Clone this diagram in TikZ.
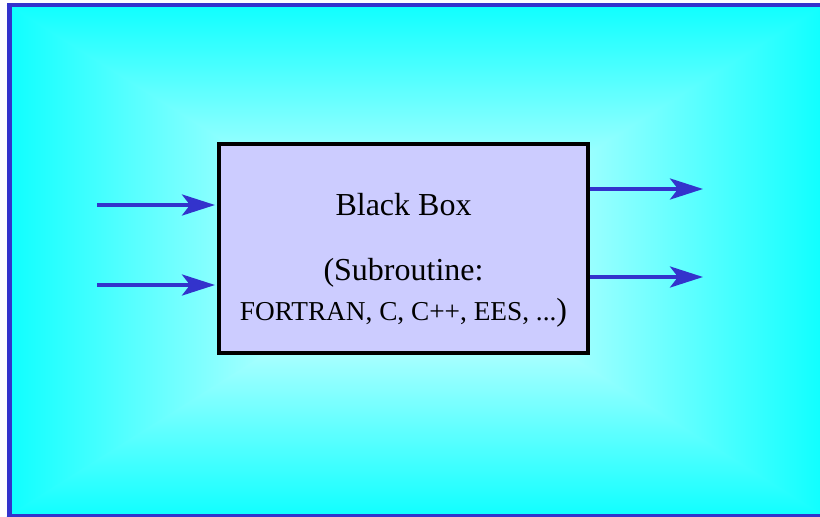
\documentclass[tikz,border=0pt]{standalone}
\usepackage{fontspec}
\setmainfont{Liberation Serif}
\usetikzlibrary{positioning,arrows.meta}
\definecolor{frameblue}{RGB}{51,51,204}
\definecolor{boxfill}{RGB}{204,204,255}
\definecolor{edgecyan}{RGB}{15,255,255}
\tikzset{box node/.style={rectangle,draw=black,fill=boxfill,line width=4pt,minimum width=369pt,minimum height=209pt,inner sep=0pt},
         flow/.style={draw=frameblue,line width=4pt,-{Stealth[length=33pt,width=21pt,inset=8pt]}},
         big text/.style={font=\fontsize{32}{38}\selectfont,inner sep=0pt,anchor=base},
         small text/.style={font=\fontsize{27.3}{32}\selectfont,inner sep=0pt,anchor=base},
            }

\begin{document}
\begin{tikzpicture}[x=1pt,y=-1pt]
    \useasboundingbox (0,0) rectangle (820,517);

    % background, lighter towards the middle
    \coordinate (tl) at (9.5,5);
    \coordinate (tr) at (823,5);
    \coordinate (br) at (823,516.5);
    \coordinate (bl) at (9.5,516.5);
    \coordinate (mid) at (416.25,260.75);
    \shade[left color=edgecyan,right color=white] (tl) -- (bl) -- (mid) -- cycle;
    \shade[right color=edgecyan,left color=white] (tr) -- (br) -- (mid) -- cycle;
    \shade[top color=edgecyan,bottom color=white]
        ([xshift=-3pt]tl) -- ([xshift=3pt]tr) -- ([xshift=3pt]mid) -- ([xshift=-3pt]mid) -- cycle;
    \shade[bottom color=edgecyan,top color=white]
        ([xshift=-3pt]bl) -- ([xshift=3pt]br) -- ([xshift=3pt]mid) -- ([xshift=-3pt]mid) -- cycle;
    \draw[frameblue,line width=4.7pt] (tl) rectangle (br);

    \node[box node] (blackbox) at (403.5,248.5) {};
    \node[big text] (title) at ([yshift=33.5pt]blackbox.center) {Black Box};
    \node[big text] (sub) at ([yshift=-31.5pt]blackbox.center) {(Subroutine:};
    \node[small text] (langs) at ([yshift=-71.5pt]blackbox.center) {FORTRAN, C, C++, EES, ...\fontsize{32}{38}\selectfont)};

    \coordinate (in1) at (97,205);
    \coordinate (in2) at (97,285);
    \coordinate (out1) at (703,189);
    \coordinate (out2) at (703,277);

    \draw[flow,shorten >=2pt] (in1) -- (in1 -| blackbox.west);
    \draw[flow,shorten >=2pt] (in2) -- (in2 -| blackbox.west);
    \draw[flow] (out1 -| blackbox.east) -- (out1);
    \draw[flow] (out2 -| blackbox.east) -- (out2);

\end{tikzpicture}
\end{document}
